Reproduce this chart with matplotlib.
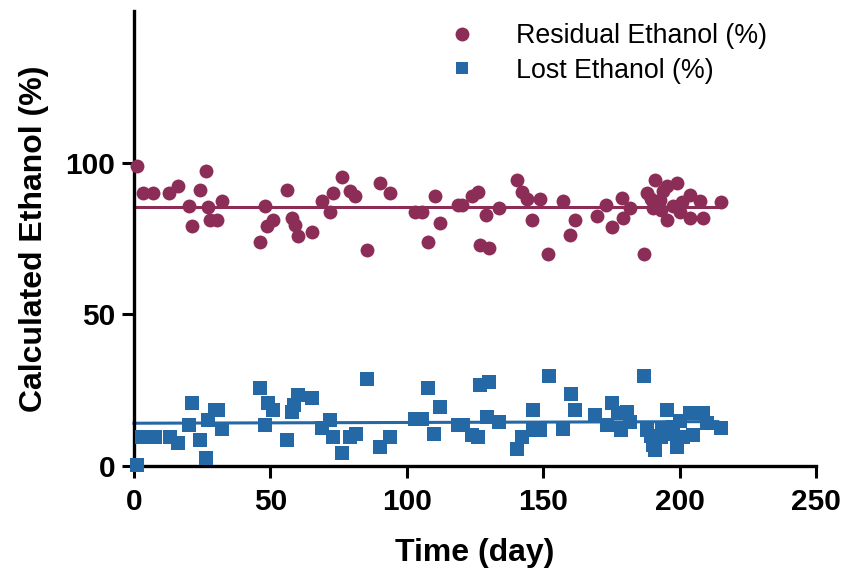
import numpy as np
import matplotlib
matplotlib.use("Agg")
import matplotlib.pyplot as plt
from matplotlib.lines import Line2D

# ---- data ----
res_day = [1.2, 3.2, 7.1, 12.9, 16.2, 20.3, 21.1, 24.2, 26.4, 27.2, 27.9, 30.3, 32.1,
           46.2, 48, 48.7, 51, 56.2, 57.8, 59, 60.2, 65.1, 68.8, 71.8, 73, 76.1, 79.2,
           81, 85.3, 90.2, 93.8, 103, 105.4, 107.9, 110.3, 112.2, 118.9, 120.1, 123.8,
           126.2, 126.8, 130.2, 128.9, 133.9, 140.3, 142.1, 143.9, 146, 148.8, 151.9,
           157.1, 160, 161.7, 169.6, 172.9, 175.1, 179, 179.4, 181.8, 187.1, 188.2, 191,
           190.4, 195.3, 198.9, 195.3, 192.8, 197.7, 200.1, 203.8, 203.8, 207.5, 208.7,
           215.2, 194, 189.5, 193, 201]
res_val = [99, 90, 90, 90, 92.2, 85.8, 79, 90.9, 97.1, 85.4, 81.2, 81.2, 87.2,
           74, 85.8, 79, 81, 91.1, 81.7, 79.5, 75.9, 77, 87.2, 83.9, 90, 95.3, 90.5,
           88.9, 71.1, 93.3, 90, 83.9, 83.9, 74, 88.9, 80.1, 86.1, 86, 88.9,
           90.2, 72.9, 71.8, 82.8, 85, 94.2, 90.2, 88, 81, 88, 70,
           87.2, 76, 81.2, 82.3, 86.1, 78.8, 88.3, 81.7, 85, 69.9, 90, 94.4,
           85, 92.2, 93.3, 81.2, 87.8, 85.6, 83.9, 89.4, 81.7, 87.2, 81.7,
           87, 90.5, 88, 84.5, 87]

lost_day = [1, 2.8, 5.2, 7.7, 13.2, 16.2, 21.1, 20.2, 24.2, 26.3, 27.2, 29.7, 30.8, 32.1,
            46.2, 48, 49, 51.1, 56, 57.8, 58.7, 60.2, 65.1, 68.8, 71.8, 73.1, 76.1, 79.2,
            81.4, 85.3, 90.2, 93.8, 103, 105.5, 107.9, 110.1, 112.2, 118.9, 120.7, 123.8,
            126, 126.8, 130.2, 129.3, 133.9, 140.3, 142.1, 146.1, 146.4, 148.8, 152.1,
            157.1, 160.2, 161.7, 169, 173.3, 175.1, 177.5, 180.6, 178.7, 182, 187.1, 187.9,
            190.4, 191, 195.3, 193.4, 197.7, 198.9, 203.8, 208.7, 205, 201.4, 209.9, 215.2,
            193, 189.5, 196, 200]
lost_val = [0.3, 9.5, 9.5, 9.5, 9.5, 7.5, 20.7, 13.5, 8.6, 2.5, 15.2, 18.5, 18.5, 12.2,
            25.6, 13.5, 20.7, 18.5, 8.6, 17.9, 20.1, 23.4, 22.5, 12.4, 15.2, 9.5, 4.2, 9.7,
            10.6, 28.6, 6.4, 9.5, 15.4, 15.4, 25.6, 10.6, 19.6, 13.5, 13.5, 10.2,
            9.5, 26.7, 27.8, 16.3, 14.6, 5.5, 9.7, 18.5, 11.9, 11.9, 29.7,
            12.2, 23.7, 18.5, 16.8, 13.5, 20.9, 17.4, 17.9, 11.9, 14.5, 29.7, 11.9,
            6.9, 5.3, 18.5, 12.4, 13, 6.4, 17.4, 17.4, 10.2, 9.7, 14.1, 12.4,
            9.5, 10, 10.5, 15]

# linear-fit parameters as shown in the reference (intercept, slope, end day)
res_fit = (85.5, 0.0, 214)
lost_fit = (14.1, 0.0025, 214)

labels = ["Residual Ethanol (%)", "Lost Ethanol (%)"]
x_ticks = [0, 50, 100, 150, 200, 250]
y_ticks = [0, 50, 100]

c_res = "#8C2D57"
c_lost = "#2469A6"

plt.rcParams['font.family'] = ['Liberation Sans', 'DejaVu Sans']

fig = plt.figure(figsize=(8.47, 5.69), dpi=100)
ax = fig.add_axes([134/847, 1-466/569, (816-134)/847, (466-11)/569])

for d, v, fit, c, m, ms in [(res_day, res_val, res_fit, c_res, 'o', 10.0),
                            (lost_day, lost_val, lost_fit, c_lost, 's', 9.4)]:
    ax.plot(d, v, linestyle='none', marker=m, ms=ms, color=c, mec=c, mew=0,
            clip_on=False, zorder=3)
    b, k, xend = fit
    xx = np.array([0.0, xend])
    ax.plot(xx, b + k*xx, color=c, lw=2.2, zorder=2, clip_on=False)

ax.set_xlim(0, 250)
ax.set_ylim(0, 150)
ax.set_xticks(x_ticks)
ax.set_yticks(y_ticks)
ax.set_xticklabels([str(t) for t in x_ticks], fontsize=21.5, fontweight='bold')
ax.set_yticklabels([str(t) for t in y_ticks], fontsize=21.5, fontweight='bold')
ax.tick_params(axis='x', direction='out', length=8.5, width=2.2, pad=7, color='black')
ax.tick_params(axis='y', direction='out', length=8.5, width=2.2, pad=5, color='black')
for s in ['top', 'right']:
    ax.spines[s].set_visible(False)
for s in ['left', 'bottom']:
    ax.spines[s].set_linewidth(2.4)

ax.set_xlabel("Time (day)", fontsize=23, fontweight='bold', labelpad=16)
ax.set_ylabel("Calculated Ethanol (%)", fontsize=23, fontweight='bold', labelpad=12)

handles = [Line2D([], [], linestyle='none', marker='o', ms=10, color=c_res, mew=0),
           Line2D([], [], linestyle='none', marker='s', ms=9, color=c_lost, mew=0)]
ax.legend(handles, labels, loc='upper left', bbox_to_anchor=(449/847, 1-23/569),
          bbox_transform=fig.transFigure, frameon=False, fontsize=19.3,
          handlelength=1.0, handletextpad=1.5, labelspacing=0.32, borderpad=0, borderaxespad=0)

fig.savefig("out.png", dpi=100)
